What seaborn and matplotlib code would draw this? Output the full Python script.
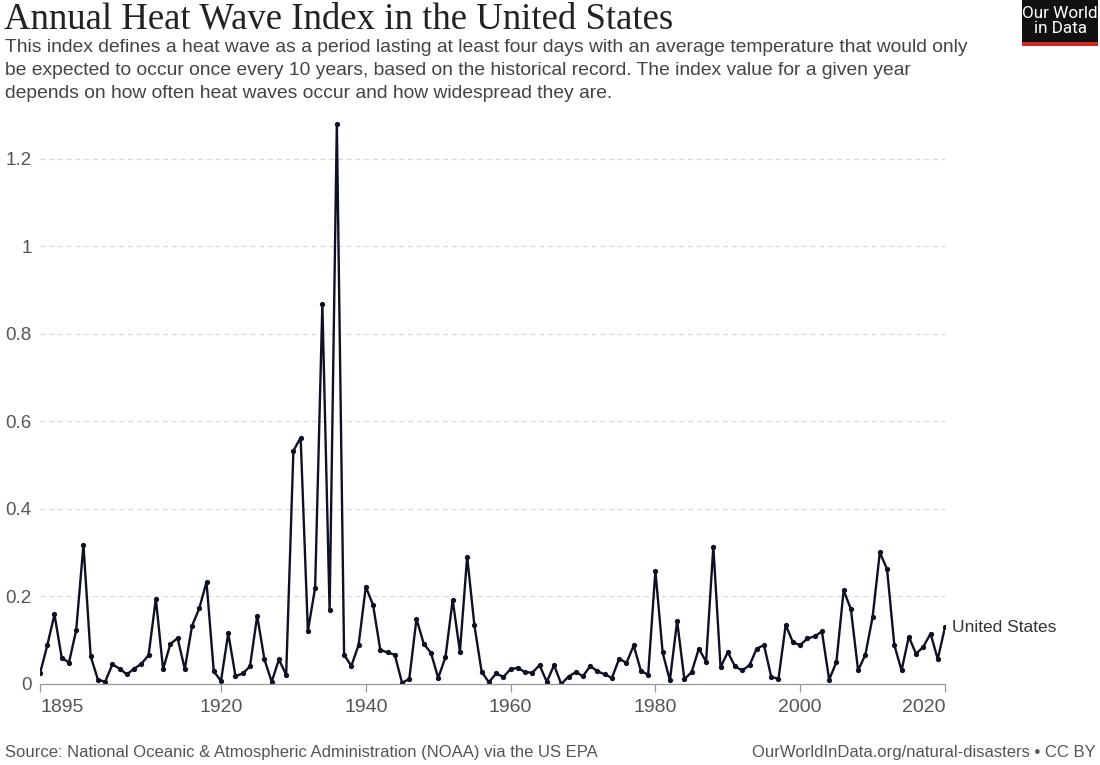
import numpy as np
import pandas as pd
import matplotlib
matplotlib.use('Agg')
import matplotlib.pyplot as plt
import seaborn as sns
from matplotlib.patches import Rectangle

# data
years = list(range(1895, 2021))
heat_index = [
    0.024, 0.088, 0.159, 0.060, 0.049, 0.123, 0.318, 0.063, 0.010, 0.005,  # 1895-1904
    0.045, 0.035, 0.022, 0.035, 0.046, 0.066, 0.195, 0.034, 0.091, 0.105,  # 1905-1914
    0.034, 0.133, 0.173, 0.233, 0.029, 0.007, 0.116, 0.018, 0.024, 0.040,  # 1915-1924
    0.156, 0.056, 0.005, 0.056, 0.021, 0.533, 0.563, 0.121, 0.220, 0.868,  # 1925-1934
    0.168, 1.281, 0.067, 0.041, 0.089, 0.222, 0.181, 0.078, 0.072, 0.067,  # 1935-1944
    0.003, 0.011, 0.149, 0.092, 0.071, 0.014, 0.061, 0.192, 0.074, 0.291,  # 1945-1954
    0.134, 0.028, 0.004, 0.024, 0.016, 0.034, 0.037, 0.027, 0.026, 0.043,  # 1955-1964
    0.005, 0.043, 0.000, 0.017, 0.027, 0.018, 0.041, 0.029, 0.022, 0.014,  # 1965-1974
    0.058, 0.048, 0.088, 0.030, 0.021, 0.259, 0.072, 0.008, 0.144, 0.011,  # 1975-1984
    0.027, 0.081, 0.051, 0.314, 0.038, 0.073, 0.040, 0.031, 0.043, 0.081,  # 1985-1994
    0.089, 0.016, 0.012, 0.135, 0.095, 0.089, 0.104, 0.109, 0.120, 0.010,  # 1995-2004
    0.050, 0.214, 0.171, 0.031, 0.067, 0.153, 0.301, 0.262, 0.089, 0.031,  # 2005-2014
    0.108, 0.069, 0.085, 0.115, 0.057, 0.130,                              # 2015-2020
]
x_ticks = [1895, 1920, 1940, 1960, 1980, 2000, 2020]
y_ticks = [0, 0.2, 0.4, 0.6, 0.8, 1.0, 1.2]
entity = 'United States'

title = 'Annual Heat Wave Index in the United States'
subtitle = ('This index defines a heat wave as a period lasting at least four days with an average temperature that would only\n'
            'be expected to occur once every 10 years, based on the historical record. The index value for a given year\n'
            'depends on how often heat waves occur and how widespread they are.')
source = 'Source: National Oceanic & Atmospheric Administration (NOAA) via the US EPA'
credit = 'OurWorldInData.org/natural-disasters • CC BY'

df = pd.DataFrame({'year': years, 'value': heat_index})

sns.set_theme(style='white')
plt.rcParams['font.family'] = ['Liberation Sans', 'DejaVu Sans']

W, H = 1100, 765
fig = plt.figure(figsize=(W / 100, H / 100), dpi=100)

# axes placed in pixel terms
left, right, bottom_px, top_px = 40, 945, 684, 121.8
ax = fig.add_axes([left / W, 1 - bottom_px / H, (right - left) / W, (bottom_px - top_px) / H])

line_col = '#0e1024'
sns.lineplot(data=df, x='year', y='value', ax=ax, color=line_col, linewidth=1.7,
             marker='o', markersize=3.8, markeredgewidth=0, legend=False)

ax.set_xlim(1895, 2020)
ax.set_ylim(0, 1.285)
ax.set_xlabel('')
ax.set_ylabel('')

ax.set_yticks(y_ticks)
ax.set_yticklabels([f'{v:g}' for v in y_ticks])
for v in y_ticks[1:]:
    ax.axhline(v, color='#d9d9d9', linewidth=0.9, linestyle=(0, (4, 3)), zorder=0)

ax.set_xticks(x_ticks)
ax.set_xticklabels([str(t) for t in x_ticks])
ax.tick_params(axis='x', length=6, width=0.9, color='#999999', labelcolor='#555555',
               labelsize=14, pad=5, direction='out', bottom=True)
ax.tick_params(axis='y', length=0, labelcolor='#555555', labelsize=13.5, pad=6)
labels = ax.get_xticklabels()
labels[0].set_horizontalalignment('left')
labels[-1].set_horizontalalignment('right')

for side in ['top', 'right', 'left']:
    ax.spines[side].set_visible(False)
ax.spines['bottom'].set_color('#999999')
ax.spines['bottom'].set_linewidth(0.9)

# entity label at the line end
ax.annotate(entity, xy=(years[-1], heat_index[-1]), xytext=(5, 0), textcoords='offset points',
            va='center', ha='left', fontsize=12.5, color='#333333', annotation_clip=False)

# header
fig.text(4 / W, 1 - 2 / H, title, ha='left', va='top', fontsize=26.5,
         family=['Liberation Serif', 'DejaVu Serif'], color='#222222')
fig.text(5 / W, 1 - 39 / H, subtitle, ha='left', va='top', fontsize=13.9,
         color='#444444', linespacing=1.48)

# logo
fig.patches.append(Rectangle((1022 / W, 1 - 42 / H), 76 / W, 42 / H, transform=fig.transFigure,
                             facecolor='#111111', edgecolor='none'))
fig.patches.append(Rectangle((1022 / W, 1 - 46 / H), 76 / W, 4 / H, transform=fig.transFigure,
                             facecolor='#d42b21', edgecolor='none'))
fig.text(1060 / W, 1 - 21 / H, 'Our World\nin Data', ha='center', va='center', fontsize=12.3,
         color='white', linespacing=0.95, family=['Roboto', 'DejaVu Sans'])

# footer
fig.text(5 / W, 1 - 752 / H, source, ha='left', va='center', fontsize=12, color='#555555')
fig.text(1096 / W, 1 - 752 / H, credit, ha='right', va='center', fontsize=12, color='#555555')

fig.savefig('out.png', dpi=100, facecolor='white')
